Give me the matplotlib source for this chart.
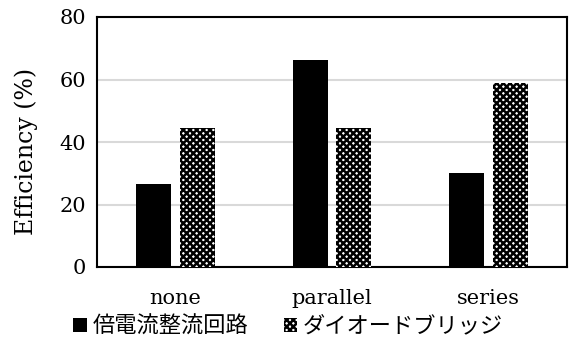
import matplotlib
matplotlib.use("Agg")
import matplotlib.pyplot as plt
import numpy as np

categories = ["none", "parallel", "series"]
doubler = [26.6, 66.2, 30.1]
bridge = [44.5, 44.5, 58.9]
series_names = ["倍電流整流回路", "ダイオードブリッジ"]

plt.rcParams['font.family'] = ['DejaVu Serif', 'Noto Sans CJK JP']
plt.rcParams['hatch.linewidth'] = 1.8

fig = plt.figure(figsize=(5.69, 3.38), dpi=100)
ax = fig.add_axes([97 / 569, 1 - 267 / 338, 470 / 569, 250 / 338])

x = np.arange(len(categories))
w = 0.224
off = 0.14
ax.bar(x - off, doubler, w, color='black', label=series_names[0], zorder=3)
ax.bar(x + off, bridge, w, color='white', edgecolor='black', linewidth=0,
       hatch='xxxxx', label=series_names[1], zorder=3)

ax.set_xlim(-0.5, 2.5)
ax.set_ylim(0, 80)
ax.set_yticks([0, 20, 40, 60, 80])
ax.set_xticks(x)
ax.set_xticklabels(categories)
ax.tick_params(length=0, labelsize=15, pad=8)
ax.tick_params(axis='x', pad=16)
ax.yaxis.grid(True, color='#d9d9d9', linewidth=1.5, zorder=0)
for s in ax.spines.values():
    s.set_linewidth(1.5)
    s.set_color('black')
ax.set_ylabel("Efficiency (%)", fontsize=17)
ax.yaxis.set_label_coords(-0.125, 0.464)

leg = fig.legend(loc='center', bbox_to_anchor=(288 / 569, 1 - 326 / 338), ncol=2,
                 frameon=False, handlelength=0.6, handleheight=0.6,
                 handletextpad=0.25, columnspacing=1.6, borderpad=0,
                 prop={'family': ['Noto Sans CJK JP'], 'size': 16})

fig.savefig("out.png", dpi=100)
